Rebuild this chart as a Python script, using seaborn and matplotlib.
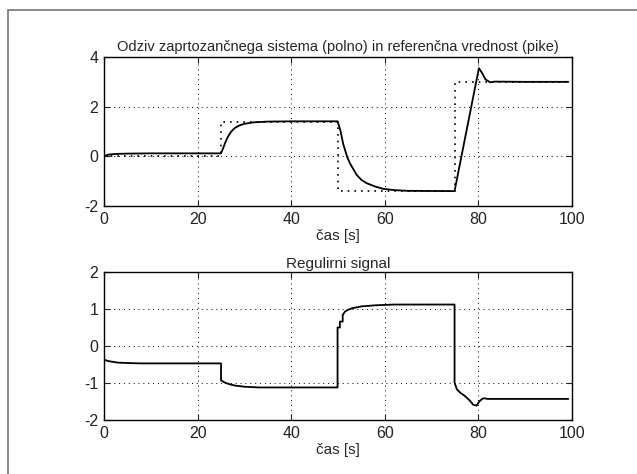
import matplotlib.pyplot as plt
import matplotlib.lines as mlines
import pandas as pd
import seaborn as sns

# odziv sistema (polno)
t_out = [0, 0.5, 1, 2, 3, 5, 10, 25, 25.5, 26, 26.5, 27, 27.5, 28, 29, 30, 32, 35, 40,
         49.9, 50.5, 51.1, 52, 52.6, 54, 55, 56.1, 58, 59.7, 62, 65, 74.9, 80.1, 80.8,
         81.5, 82.5, 83.5, 90, 99.2]
y_out = [0, 0.04, 0.07, 0.09, 0.1, 0.11, 0.12, 0.12, 0.35, 0.6, 0.8, 0.95, 1.06, 1.15, 1.25,
         1.31, 1.37, 1.4, 1.41, 1.41, 1.05, 0.5, -0.05, -0.3, -0.75, -0.95, -1.08, -1.22,
         -1.31, -1.36, -1.39, -1.4, 3.55, 3.35, 3.1, 2.98, 3.01, 3.0, 3.0]

# referencna vrednost (pike)
t_ref = [0, 25, 25, 50, 50, 75, 75, 99.2]
y_ref = [0, 0, 1.4, 1.4, -1.4, -1.4, 3.0, 3.0]

# regulirni signal
t_u = [0, 1, 2, 3, 5, 8, 25, 25, 26, 27, 28, 30, 33, 49.9, 49.9, 50.4, 50.4, 51, 51, 51.5,
       52, 53, 55, 58, 62, 74.9, 74.9, 75.4, 76.1, 77.1, 78.2, 78.9, 79.6, 80.2, 80.7, 81.1,
       82, 99.2]
y_u = [-0.37, -0.41, -0.43, -0.45, -0.46, -0.47, -0.47, -0.93, -1.0, -1.04, -1.07, -1.1, -1.12,
       -1.12, 0.5, 0.5, 0.66, 0.66, 0.84, 0.93, 0.97, 1.02, 1.07, 1.1, 1.12, 1.12, -0.99,
       -1.17, -1.26, -1.35, -1.48, -1.59, -1.61, -1.5, -1.44, -1.41, -1.43, -1.43]

xticks = [0, 20, 40, 60, 80, 100]

sns.set_style("white")
plt.rcParams["font.family"] = ["Liberation Sans", "DejaVu Sans"]
plt.rcParams["axes.unicode_minus"] = False

fig = plt.figure(figsize=(6.37, 4.74), dpi=100)
ax1 = fig.add_axes([0.1633, 0.5654, 0.7347, 0.3143])
ax2 = fig.add_axes([0.1633, 0.1139, 0.7347, 0.3123])

out = pd.DataFrame({"t": t_out, "y": y_out})
ref = pd.DataFrame({"t": t_ref, "y": y_ref})
sig = pd.DataFrame({"t": t_u, "u": y_u})

sns.lineplot(data=ref, x="t", y="y", ax=ax1, color="black", lw=1.2,
             linestyle=(0, (1, 3)), estimator=None, sort=False)
sns.lineplot(data=out, x="t", y="y", ax=ax1, color="black", lw=1.3,
             estimator=None, sort=False)
sns.lineplot(data=sig, x="t", y="u", ax=ax2, color="black", lw=1.3,
             estimator=None, sort=False)

for ax, yl, yt in [(ax1, (-2, 4), [-2, 0, 2, 4]), (ax2, (-2, 2), [-2, -1, 0, 1, 2])]:
    ax.set_xlim(0, 100)
    ax.set_ylim(*yl)
    ax.set_xticks(xticks)
    ax.set_yticks(yt)
    ax.set_xlabel("čas [s]", fontsize=11, labelpad=2)
    ax.set_ylabel("")
    ax.grid(True, color="black", linestyle=(0, (1, 4)), lw=0.7)
    ax.tick_params(direction="in", length=4, width=0.8, top=True, right=True,
                   bottom=True, left=True, labelsize=11.5, colors="#222222", pad=4)
    for s in ax.spines.values():
        s.set_color("black")
        s.set_linewidth(1.0)

ax1.set_title("Odziv zaprtozančnega sistema (polno) in referenčna vrednost (pike)",
              fontsize=10.5, pad=4)
ax2.set_title("Regulirni signal", fontsize=11, pad=3)

# siv okvir slike
fig.add_artist(mlines.Line2D([0.0126, 0.0126], [0.0, 0.979], color="#808080", lw=1.3))
fig.add_artist(mlines.Line2D([0.0126, 1.0], [0.979, 0.979], color="#808080", lw=1.3))

fig.savefig("out.png", dpi=100)
